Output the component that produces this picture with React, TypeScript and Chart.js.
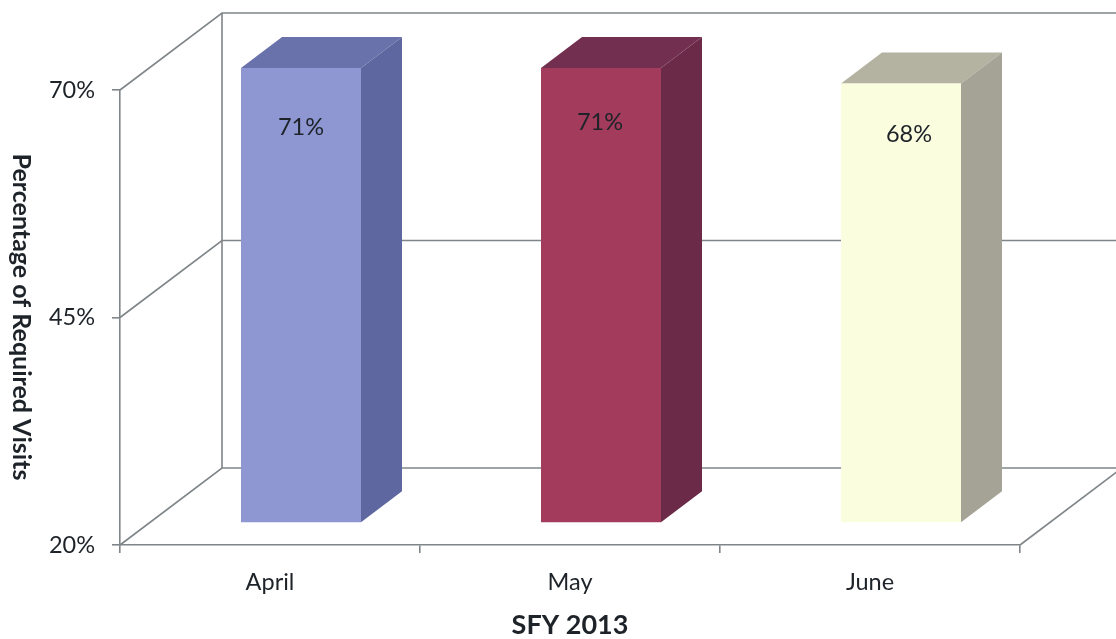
import React, { useEffect, useRef } from "react";
import { Chart, registerables } from "chart.js";

Chart.register(...registerables);

const months = ["April", "May", "June"];
const visitShare = [71, 71, 68.3];
const shownLabels = ["71%", "71%", "68%"];
const axisMin = 20;
const axisMax = 70;
const axisStep = 25;
const xTitle = "SFY 2013";
const yTitle = "Percentage of Required Visits";

const frontColors = ["#8f97d2", "#a33c5c", "#fbfddf"];
const sideColors = ["#5f67a0", "#6b2a48", "#a5a296"];
const topColors = ["#6a72ab", "#732f50", "#b4b3a1"];

const FONT = "Lato, 'Open Sans', sans-serif";
const INK = "#1d2328";
const LINE = "#7f8588";
const DEPTH_X = 102;
const DEPTH_Y = 77;
const BAR_SHIFT_X = 31;
const BAR_SHIFT_Y = 22;
const BAR_DEPTH_X = 41;
const BAR_DEPTH_Y = 31;
const LABEL_NUDGE = [[0, 59], [-1, 54], [8, 51]];

const wallsPlugin = {
  id: "walls",
  beforeDatasetsDraw(chart: any) {
    const { ctx, chartArea, scales } = chart;
    const { left, right, bottom } = chartArea;
    ctx.save();
    ctx.strokeStyle = LINE;
    ctx.lineWidth = 1.6;
    const backX = left + DEPTH_X;
    const ticks = scales.y.ticks.map((t: any) => scales.y.getPixelForValue(t.value));
    ticks.forEach((py: number) => {
      ctx.beginPath();
      ctx.moveTo(left, py);
      ctx.lineTo(backX, py - DEPTH_Y);
      ctx.lineTo(chart.width, py - DEPTH_Y);
      ctx.stroke();
    });
    ctx.beginPath();
    ctx.moveTo(backX, chartArea.top - DEPTH_Y);
    ctx.lineTo(backX, bottom - DEPTH_Y);
    ctx.stroke();
    ctx.beginPath();
    ctx.moveTo(right, bottom);
    ctx.lineTo(right + DEPTH_X, bottom - DEPTH_Y);
    ctx.stroke();
    ctx.restore();
  },
  beforeDatasetDraw(chart: any) {
    const { ctx } = chart;
    const meta = chart.getDatasetMeta(0);
    ctx.save();
    ctx.translate(BAR_SHIFT_X, -BAR_SHIFT_Y);
    meta.data.forEach((bar: any, i: number) => {
      const l = bar.x - bar.width / 2;
      const r = bar.x + bar.width / 2;
      const t = bar.y;
      const b = bar.base;
      ctx.fillStyle = topColors[i];
      ctx.beginPath();
      ctx.moveTo(l, t);
      ctx.lineTo(l + BAR_DEPTH_X, t - BAR_DEPTH_Y);
      ctx.lineTo(r + BAR_DEPTH_X, t - BAR_DEPTH_Y);
      ctx.lineTo(r, t);
      ctx.closePath();
      ctx.fill();
      ctx.fillStyle = sideColors[i];
      ctx.beginPath();
      ctx.moveTo(r, t);
      ctx.lineTo(r + BAR_DEPTH_X, t - BAR_DEPTH_Y);
      ctx.lineTo(r + BAR_DEPTH_X, b - BAR_DEPTH_Y);
      ctx.lineTo(r, b);
      ctx.closePath();
      ctx.fill();
    });
  },
  afterDatasetDraw(chart: any) {
    chart.ctx.restore();
  },
  afterDraw(chart: any) {
    const { ctx, chartArea } = chart;
    const meta = chart.getDatasetMeta(0);
    ctx.save();
    ctx.fillStyle = INK;
    ctx.font = `23.5px ${FONT}`;
    ctx.textAlign = "center";
    ctx.textBaseline = "middle";
    meta.data.forEach((bar: any, i: number) => {
      ctx.fillText(
        shownLabels[i],
        bar.x + BAR_SHIFT_X + LABEL_NUDGE[i][0],
        bar.y - BAR_SHIFT_Y + LABEL_NUDGE[i][1]
      );
    });
    ctx.font = `bold 27px ${FONT}`;
    ctx.fillText(xTitle, (chartArea.left + chartArea.right) / 2, 625);
    ctx.font = `bold 25px ${FONT}`;
    ctx.translate(21, 317);
    ctx.rotate(Math.PI / 2);
    ctx.fillText(yTitle, 0, 0);
    ctx.restore();
  },
};

export default function App() {
  const ref = useRef<HTMLCanvasElement | null>(null);
  useEffect(() => {
    document.body.style.margin = "0";
    document.body.style.background = "#ffffff";
    const chart = new Chart(ref.current as HTMLCanvasElement, {
      type: "bar",
      data: {
        labels: months,
        datasets: [
          {
            label: yTitle,
            data: visitShare.map((v) => Math.min(v, axisMax)),
            base: axisMin,
            backgroundColor: frontColors,
            borderWidth: 0,
            barPercentage: 0.4,
            categoryPercentage: 1,
            clip: false,
          } as any,
        ],
      },
      options: {
        responsive: false,
        animation: false,
        layout: { padding: { left: 0, top: 90, right: 96, bottom: 0 } },
        plugins: { legend: { display: false }, tooltip: { enabled: false } },
        scales: {
          x: {
            afterFit: (s: any) => { s.height = 94; },
            border: { color: LINE, width: 1.6 },
            grid: { drawOnChartArea: false, color: LINE, lineWidth: 1.6, tickLength: 8, offset: true },
            ticks: { color: INK, font: { family: FONT, size: 23.5 }, padding: 15, maxRotation: 0 },
          },
          y: {
            min: axisMin,
            max: axisMax,
            afterFit: (s: any) => { s.width = 120; },
            border: { color: LINE, width: 1.6 },
            grid: { drawOnChartArea: false, color: LINE, lineWidth: 1.6, tickLength: 8 },
            ticks: {
              stepSize: axisStep,
              color: INK,
              font: { family: FONT, size: 23.5 },
              padding: 17,
              callback: (v: any) => `${v}%`,
            },
          },
        },
      },
      plugins: [wallsPlugin],
    } as any);
    return () => chart.destroy();
  }, []);
  return <canvas ref={ref} width={1116} height={639} style={{ display: "block" }} />;
}
